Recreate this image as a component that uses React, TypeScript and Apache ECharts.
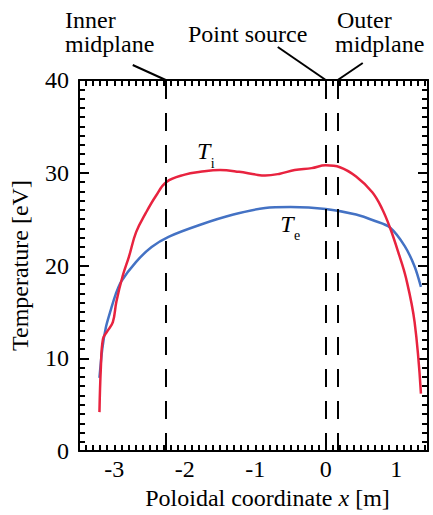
import React, { useEffect, useRef } from "react";
import * as echarts from "echarts";

// Ion temperature T_i
const tiX = [-3.21, -3.19, -3.16, -3.1, -3.02, -2.97, -2.88, -2.79, -2.69, -2.55, -2.41, -2.26, -2.0, -1.78, -1.5, -1.23, -0.99, -0.86, -0.65, -0.44, -0.2, 0, 0.2, 0.43, 0.66, 0.8, 0.91, 1.03, 1.14, 1.26, 1.35];
const tiY = [4.2, 9.0, 12.1, 12.9, 13.9, 16.1, 18.9, 21.0, 23.6, 25.7, 27.5, 29.0, 29.8, 30.1, 30.3, 30.1, 29.8, 29.7, 29.9, 30.3, 30.5, 30.8, 30.6, 29.6, 27.9, 26.1, 24.1, 21.4, 18.6, 13.9, 6.2];
// Electron temperature T_e
const teX = [-3.21, -3.17, -3.12, -3.05, -2.98, -2.9, -2.69, -2.47, -2.23, -1.78, -1.31, -0.86, -0.5, 0, 0.43, 0.7, 0.91, 1.12, 1.26, 1.35];
const teY = [7.9, 11.0, 13.3, 15.2, 16.9, 18.3, 20.4, 22.0, 23.1, 24.4, 25.5, 26.2, 26.3, 26.1, 25.5, 24.8, 24.1, 22.1, 19.9, 17.7];

const xTickLabels = [-3, -2, -1, 0, 1];
const yTickLabels = [0, 10, 20, 30, 40];
const innerMidplaneX = -2.27;
const pointSourceX = 0;
const outerMidplaneX = 0.17;

const FONT = "Liberation Serif";

export default function App() {
  const ref = useRef<HTMLDivElement>(null);
  useEffect(() => {
    document.body.style.margin = "0";
    const chart = echarts.init(ref.current!, null, { renderer: "svg" });
    const minorX: number[] = [];
    for (let i = -34; i <= 14; i++) minorX.push(i / 10);
    const axisLine = { show: true, onZero: false, lineStyle: { color: "#000", width: 2 } };
    const xBase = (pos: string, showLabel: boolean) => ({
      type: "value",
      position: pos,
      min: -3.5,
      max: 1.45,
      axisLine,
      axisTick: { show: true, inside: true, length: 6, customValues: minorX, lineStyle: { color: "#000", width: 2 } },
      axisLabel: { show: showLabel, customValues: xTickLabels, fontFamily: FONT, fontSize: 24, color: "#000", margin: 6 },
      splitLine: { show: false },
    });
    const yBase = (pos: string, showLabel: boolean) => ({
      type: "value",
      position: pos,
      min: yTickLabels[0],
      max: yTickLabels[yTickLabels.length - 1],
      interval: 10,
      axisLine,
      axisTick: { show: true, inside: true, length: 10, lineStyle: { color: "#000", width: 2 } },
      minorTick: { show: true, splitNumber: 10, length: 6, lineStyle: { color: "#000", width: 2 } },
      axisLabel: { show: showLabel, fontFamily: FONT, fontSize: 24, color: "#000", margin: 10 },
      splitLine: { show: false },
      minorSplitLine: { show: false },
    });
    const dash = { color: "#000", width: 2, type: [18, 14] };
    chart.setOption({
      animation: false,
      grid: { left: 70, right: 5, top: 80, bottom: 62, containLabel: false },
      xAxis: [
        {
          ...xBase("bottom", true),
          name: "Poloidal coordinate {it|x} [m]",
          nameLocation: "middle",
          nameGap: 21,
          nameTextStyle: {
            fontFamily: FONT,
            fontSize: 24,
            color: "#000",
            padding: [0, 0, 0, 28],
            rich: { it: { fontFamily: FONT, fontSize: 24, fontStyle: "italic", color: "#000" } },
          },
        },
        xBase("top", false),
      ],
      yAxis: [
        {
          ...yBase("left", true),
          name: "Temperature [eV]",
          nameLocation: "middle",
          nameGap: 47,
          nameTextStyle: { fontFamily: FONT, fontSize: 24, color: "#000" },
        },
        yBase("right", false),
      ],
      series: [
        {
          type: "line",
          data: teX.map((x, i) => [x, teY[i]]),
          smooth: 0.3,
          symbol: "none",
          lineStyle: { color: "#4472c4", width: 2.5 },
          z: 3,
        },
        {
          type: "line",
          data: tiX.map((x, i) => [x, tiY[i]]),
          smooth: 0.4,
          symbol: "none",
          lineStyle: { color: "#e8233f", width: 2.5 },
          z: 4,
          markLine: {
            silent: true,
            symbol: "none",
            label: { show: false },
            lineStyle: dash,
            data: [{ xAxis: innerMidplaneX }, { xAxis: pointSourceX }, { xAxis: outerMidplaneX }],
          },
        },
      ],
    });

    const topOf = (x: number) => chart.convertToPixel({ gridIndex: 0 }, [x, 40]) as number[];
    const pIn = topOf(innerMidplaneX);
    const pPt = topOf(pointSourceX);
    const pOut = topOf(outerMidplaneX);
    const ti = chart.convertToPixel({ gridIndex: 0 }, [-1.73, 32.3]) as number[];
    const te = chart.convertToPixel({ gridIndex: 0 }, [-0.55, 24.5]) as number[];
    const txt = (text: string, x: number, y: number, extra: any = {}) => ({
      type: "text",
      x,
      y,
      style: { text, fontFamily: FONT, fontSize: 24, fill: "#000", ...extra },
    });
    chart.setOption({
      graphic: [
        txt("Inner", 65, 8),
        txt("midplane", 65, 32),
        txt("Point source", 188, 22),
        txt("Outer", 337, 8),
        txt("midplane", 335, 32),
        { type: "line", shape: { x1: pIn[0] - 33, y1: pIn[1] - 15, x2: pIn[0], y2: pIn[1] }, style: { stroke: "#000", lineWidth: 2 } },
        { type: "line", shape: { x1: pPt[0] - 48, y1: pPt[1] - 33, x2: pPt[0], y2: pPt[1] }, style: { stroke: "#000", lineWidth: 2 } },
        { type: "line", shape: { x1: pOut[0] + 25, y1: pOut[1] - 17, x2: pOut[0], y2: pOut[1] }, style: { stroke: "#000", lineWidth: 2 } },
        txt("T", ti[0], ti[1], { fontStyle: "italic", align: "center", verticalAlign: "middle" }),
        txt("i", ti[0] + 9, ti[1] + 12, { fontSize: 14, align: "center", verticalAlign: "middle" }),
        txt("T", te[0], te[1], { fontStyle: "italic", align: "center", verticalAlign: "middle" }),
        txt("e", te[0] + 10, te[1] + 12, { fontSize: 14, align: "center", verticalAlign: "middle" }),
      ],
    });
    return () => chart.dispose();
  }, []);
  return <div ref={ref} style={{ width: 433, height: 515 }} />;
}
